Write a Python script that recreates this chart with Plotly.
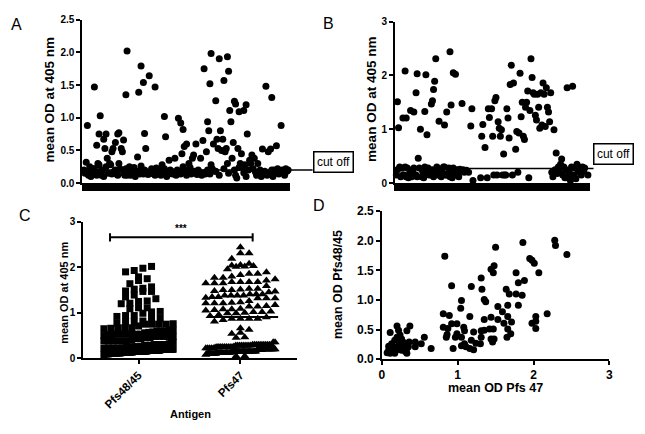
import plotly.graph_objects as go

W, H = 645, 434


def px_x(p):
    return p / W


def px_y(p):
    return 1 - p / H


# ---------------- data ----------------
# Panel A: mean OD (Pfs48/45) per sample, sample index = list position
a_od = [0.20, 0.15, 0.32, 0.88, 0.12, 0.25, 0.10, 0.18, 0.22, 1.47, 0.14, 0.58, 0.30, 0.75, 1.03, 0.12,
        0.20, 0.67, 0.53, 0.75, 0.38, 0.15, 0.30, 0.28, 0.48, 0.53, 0.18, 0.62, 0.14, 0.75, 0.77, 0.22,
        0.53, 0.48, 0.66, 0.12, 1.35, 2.02, 0.15, 0.25, 0.12, 0.20, 0.16, 0.24, 0.10, 0.18, 0.40, 1.39,
        0.14, 1.79, 0.20, 1.54, 0.76, 0.53, 0.17, 0.13, 1.64, 0.15, 0.22, 0.18, 0.14, 1.47, 0.23, 0.17,
        0.16, 0.20, 0.12, 0.28, 0.18, 1.02, 0.71, 0.10, 0.14, 0.35, 0.20, 0.18, 0.14, 0.16, 0.38, 0.12,
        0.20, 0.99, 0.15, 0.92, 0.45, 0.82, 0.56, 0.20, 0.60, 0.16, 0.30, 0.24, 0.14, 0.38, 0.43, 0.18,
        0.60, 0.13, 0.20, 0.16, 0.38, 0.12, 0.65, 1.75, 0.14, 0.48, 0.94, 0.80, 1.52, 1.98, 0.22, 0.60,
        0.18, 1.26, 0.67, 0.53, 1.90, 0.80, 0.50, 0.67, 1.57, 0.48, 0.53, 1.93, 1.71, 1.11, 0.94, 0.38,
        0.62, 1.25, 1.21, 0.08, 0.53, 1.09, 0.30, 0.45, 0.25, 1.11, 0.28, 1.20, 0.75, 0.20, 0.35, 0.30,
        0.43, 0.22, 0.38, 0.17, 0.12, 0.30, 0.16, 0.20, 0.10, 0.52, 0.14, 0.18, 1.48, 0.12, 0.48, 0.15,
        0.52, 1.31, 0.10, 0.20, 0.16, 0.57, 0.22, 0.14, 0.18, 0.88, 0.20, 0.16, 0.12, 0.22, 0.18, 0.20]
a_extra_sample = [3, 9, 11, 13, 14, 17, 19, 24, 27, 29, 30, 34, 36, 37, 47, 49, 51, 52, 56, 61, 69,
                  81, 83, 85, 88, 103, 106, 108, 109, 113, 116, 120, 123, 124, 129, 130, 133, 137,
                  139, 156, 161, 169]
a_extra_od = [0.15, 0.22, 0.12, 0.28, 0.18, 0.10, 0.25, 0.14, 0.20, 0.12, 0.30, 0.16, 0.22, 0.12,
              0.18, 0.26, 0.14, 0.20, 0.16, 0.12, 0.22, 0.18, 0.14, 0.25, 0.12, 0.16, 0.20, 0.14,
              0.28, 0.18, 0.12, 0.22, 0.30, 0.15, 0.20, 0.12, 0.24, 0.16, 0.10, 0.14, 0.20, 0.18]
a_cutoff = 0.20

# Panel B: mean OD (Pfs47) per sample
b_od = [0.15, 1.51, 1.03, 0.30, 0.12, 0.28, 1.21, 0.15, 2.08, 1.21, 0.28, 0.10, 0.18, 1.35, 0.12, 0.25,
        1.32, 0.15, 1.68, 2.03, 0.46, 0.28, 1.00, 0.12, 0.22, 0.10, 1.33, 2.01, 0.90, 0.28, 0.15, 0.20,
        1.47, 1.53, 1.74, 1.89, 2.31, 0.30, 0.15, 1.15, 0.25, 0.12, 0.20, 0.30, 1.08, 0.15, 1.32, 0.18,
        0.28, 2.44, 1.45, 0.10, 2.05, 0.15, 2.02, 0.25, 0.20, 0.12, 0.26, 0.22, 1.48, 0.25, 0.20, None,
        0.24, None, 0.20, None, 1.06, 1.38, 0.05, None, None, None, None, None, None, 0.10, 0.87, 1.09,
        None, 0.66, None, 0.10, 1.38, 1.22, None, 1.38, 0.87, 0.15, 1.53, 1.59, 0.15, 1.14, 1.02, 0.87,
        0.99, 0.15, 0.54, 0.15, 0.15, 1.38, 1.21, 0.84, 1.83, 2.19, 0.15, 1.86, None, 0.63, 0.96, 0.20,
        0.93, 2.04, 1.23, 1.50, 0.87, 0.81, 1.41, 1.50, 1.71, 0.10, 1.35, 2.31, 1.96, 1.68, 1.65, 1.26,
        1.17, 1.65, 1.41, 1.02, 1.68, 1.08, 1.86, 1.65, 1.05, 1.77, 1.41, 1.32, 1.14, 1.68, 0.20, 0.12,
        0.99, 0.25, 0.56, 0.18, 0.30, 0.22, 0.35, 0.45, 0.15, 0.30, 0.10, 0.25, 1.77, 0.12, 0.20, 0.05,
        0.30, 1.80, 0.15, 0.28, 0.08, 0.35, 0.20, 0.30, 0.25, 0.15, 0.30, 0.22, 0.28, None, None, 0.15]
b_extra_sample = [1, 6, 8, 9, 13, 16, 18, 19, 26, 27, 32, 33, 34, 36, 44, 46, 49, 50, 52, 54, 156, 161]
b_extra_od = [0.25, 0.15, 0.30, 0.12, 0.20, 0.28, 0.15, 0.12, 0.30, 0.18, 0.15, 0.25, 0.12, 0.20,
              0.30, 0.15, 0.12, 0.22, 0.28, 0.18, 0.10, 0.12]
b_cutoff = 0.27

# Panel C
c_antigens = ["Pfs48/45", "Pfs47"]
c_means = [0.53, 0.91]
c_signif = "***"

# Panel D: paired OD values
d_pfs47 = [2.28, 2.29, 2.44, 1.86, 1.50, 0.83, 1.95, 1.98, 2.01, 2.07, 1.48, 1.44, 1.47, 1.77, 1.88,
           1.80, 1.31, 1.18, 0.92, 1.32, 1.64, 1.68, 1.77, 1.85, 1.35, 1.37, 1.05, 1.66, 1.80, 1.04,
           1.53, 0.81, 2.18, 1.59, 0.89, 1.16, 1.66, 2.03, 1.44, 1.35, 1.53, 2.03, 1.71, 1.61, 1.98,
           0.92, 0.99, 0.81, 0.87, 1.08, 2.03, 1.35, 1.42, 1.66, 0.86, 0.99, 1.09, 1.21, 1.31, 1.47,
           1.70, 0.85, 0.97, 1.05, 1.31, 1.44, 1.48, 1.65, 1.09, 1.18, 1.24, 1.30, 1.46, 1.05, 1.11,
           1.16, 1.21, 0.94, 0.65, 0.56, 0.52, 0.44, 0.44, 0.37, 0.33, 0.11, 0.20, 0.22, 0.24, 0.09,
           0.13, 0.17, 0.26, 0.28, 0.31, 0.35, 0.11, 0.15, 0.20, 0.24, 0.26, 0.31, 0.33, 0.17, 0.22,
           0.15, 0.09, 0.28, 0.33, 0.20, 0.26, 0.13, 0.07, 0.36, 0.24]
d_pfs4845 = [2.01, 1.92, 1.77, 1.97, 1.89, 1.74, 1.70, 1.67, 1.62, 1.46, 1.58, 1.52, 1.46, 1.46, 1.33,
             1.29, 1.37, 1.23, 1.24, 1.18, 1.18, 1.10, 1.10, 1.08, 1.01, 0.97, 0.99, 0.91, 0.91, 0.86,
             0.89, 0.77, 0.77, 0.80, 0.74, 0.72, 0.72, 0.72, 0.71, 0.67, 0.67, 0.64, 0.63, 0.61, 0.61,
             0.60, 0.60, 0.54, 0.52, 0.54, 0.52, 0.49, 0.51, 0.51, 0.42, 0.43, 0.48, 0.46, 0.48, 0.51,
             0.43, 0.37, 0.37, 0.37, 0.37, 0.34, 0.34, 0.37, 0.26, 0.32, 0.27, 0.26, 0.29, 0.23, 0.21,
             0.18, 0.16, 0.18, 0.18, 0.37, 0.26, 0.29, 0.21, 0.56, 0.48, 0.45, 0.56, 0.49, 0.41, 0.22,
             0.26, 0.32, 0.34, 0.29, 0.26, 0.21, 0.10, 0.13, 0.16, 0.21, 0.15, 0.13, 0.10, 0.10, 0.23,
             0.21, 0.15, 0.21, 0.18, 0.37, 0.25, 0.16, 0.11, 0.29, 0.29]

# ---------------- helpers ----------------
FONT = "Liberation Sans, Arial, sans-serif"
BLACK = "#000000"


def swarm(vals, center, row_h, step, max_half):
    rows = {}
    for v in sorted(vals):
        rows.setdefault(int(round(v / row_h)), []).append(v)
    xs, ys = [], []
    for k in sorted(rows):
        vs = rows[k]
        n = len(vs)
        s = step if (n - 1) * step <= 2 * max_half or n == 1 else 2 * max_half / (n - 1)
        for i, v in enumerate(vs):
            xs.append(center + (i - (n - 1) / 2) * s)
            ys.append(v)
    return xs, ys


def axis_style(**kw):
    d = dict(showline=True, linecolor=BLACK, linewidth=1.5, ticks="outside", ticklen=4,
             tickwidth=1.5, tickcolor=BLACK, showgrid=False, zeroline=False,
             tickfont=dict(family=FONT, size=10, color=BLACK, weight="bold"))
    d.update(kw)
    return d


fig = go.Figure()
dot = dict(color=BLACK, size=7, symbol="circle")

# Panel A
fig.add_trace(go.Scatter(x=list(range(len(a_od))), y=a_od, mode="markers", marker=dot,
                         xaxis="x", yaxis="y", cliponaxis=False, showlegend=False))
fig.add_trace(go.Scatter(x=a_extra_sample, y=a_extra_od, mode="markers", marker=dot,
                         xaxis="x", yaxis="y", cliponaxis=False, showlegend=False))
# Panel B
fig.add_trace(go.Scatter(x=list(range(len(b_od))), y=b_od, mode="markers", marker=dot,
                         xaxis="x2", yaxis="y2", cliponaxis=False, showlegend=False))
fig.add_trace(go.Scatter(x=b_extra_sample, y=b_extra_od, mode="markers", marker=dot,
                         xaxis="x2", yaxis="y2", cliponaxis=False, showlegend=False))
# Panel C
c_vals = [[v for v in a_od + a_extra_od if v is not None],
          [v for v in b_od + b_extra_od if v is not None]]
symbols = ["square", "triangle-up"]
sizes = [7, 8]
for i, vals in enumerate(c_vals):
    xs, ys = swarm(vals, i, 0.14, 0.085, 0.34)
    fig.add_trace(go.Scatter(x=xs, y=ys, mode="markers",
                             marker=dict(color=BLACK, size=sizes[i], symbol=symbols[i]),
                             xaxis="x3", yaxis="y3", cliponaxis=False, showlegend=False))
# Panel D
fig.add_trace(go.Scatter(x=d_pfs47, y=d_pfs4845, mode="markers", marker=dot,
                         xaxis="x4", yaxis="y4", cliponaxis=False, showlegend=False))

nA = len(a_od)
big_tick = dict(family=FONT, size=12, color=BLACK, weight="bold")
layout = dict(
    width=W, height=H, margin=dict(l=0, r=0, t=0, b=0),
    paper_bgcolor="white", plot_bgcolor="white", hovermode=False,
    xaxis=axis_style(domain=[px_x(80), px_x(290)], anchor="y", range=[-1.5, nA + 0.5],
                     tickmode="linear", tick0=0, dtick=1, ticklen=6, tickwidth=1.5,
                     showticklabels=False),
    yaxis=axis_style(domain=[px_y(182), px_y(13)], anchor="x", range=[0, 2.5],
                     tickmode="linear", tick0=0, dtick=0.5, tickformat=".1f"),
    xaxis2=axis_style(domain=[px_x(396), px_x(593)], anchor="y2", range=[-1.5, nA + 0.5],
                      tickmode="linear", tick0=0, dtick=1, ticklen=6, tickwidth=1.5,
                      showticklabels=False),
    yaxis2=axis_style(domain=[px_y(182), px_y(15)], anchor="x2", range=[0, 3],
                      tickmode="linear", tick0=0, dtick=1),
    xaxis3=axis_style(domain=[px_x(81), px_x(297)], anchor="y3", range=[-0.544, 1.553],
                      tickmode="array", tickvals=[0, 1], ticktext=c_antigens, tickangle=-45,
                      tickfont=dict(family=FONT, size=11.5, color=BLACK, weight="bold")),
    yaxis3=axis_style(domain=[px_y(363), px_y(222)], anchor="x3", range=[0, 3],
                      tickmode="linear", tick0=0, dtick=1),
    xaxis4=axis_style(domain=[px_x(383), px_x(613)], anchor="y4", range=[0, 3],
                      tickmode="linear", tick0=0, dtick=1, tickfont=big_tick),
    yaxis4=axis_style(domain=[px_y(364), px_y(211)], anchor="x4", range=[0, 2.5],
                      tickmode="linear", tick0=0, dtick=0.5, tickformat=".1f", tickfont=big_tick),
)
fig.update_layout(**layout)

shapes = [
    dict(type="line", xref="paper", yref="y", x0=px_x(80), x1=px_x(313), y0=a_cutoff, y1=a_cutoff,
         line=dict(color=BLACK, width=1.5)),
    dict(type="line", xref="paper", yref="y2", x0=px_x(396), x1=px_x(597), y0=b_cutoff, y1=b_cutoff,
         line=dict(color=BLACK, width=1.5)),
    # mean lines
    dict(type="line", xref="x3", yref="y3", x0=-0.36, x1=0.34, y0=c_means[0], y1=c_means[0],
         line=dict(color=BLACK, width=2)),
    dict(type="line", xref="x3", yref="y3", x0=0.71, x1=1.37, y0=c_means[1], y1=c_means[1],
         line=dict(color=BLACK, width=2)),
    # significance bracket
    dict(type="line", xref="x3", yref="y3", x0=-0.28, x1=1.12, y0=2.66, y1=2.66,
         line=dict(color=BLACK, width=2)),
    dict(type="line", xref="x3", yref="y3", x0=-0.28, x1=-0.28, y0=2.57, y1=2.75,
         line=dict(color=BLACK, width=2)),
    dict(type="line", xref="x3", yref="y3", x0=1.12, x1=1.12, y0=2.57, y1=2.75,
         line=dict(color=BLACK, width=2)),
]
fig.update_layout(shapes=shapes)

ann = []


def text(x, y, s, size, bold=False, angle=0, xanchor="center"):
    ann.append(dict(xref="paper", yref="paper", x=px_x(x), y=px_y(y), text=s, showarrow=False,
                    textangle=angle, xanchor=xanchor, yanchor="middle",
                    font=dict(family=FONT, size=size, color=BLACK, weight="bold" if bold else "normal")))


# panel letters
text(14, 18, "A", 16)
text(329, 17, "B", 16)
text(22, 215, "C", 16)
text(319, 205, "D", 16)
# axis titles
text(47, 96, "mean OD at 405 nm", 13.5, bold=True, angle=-90)
text(373, 95, "mean OD at 405 nm", 13.5, bold=True, angle=-90)
text(62, 295, "mean OD at 405 nm", 11, bold=True, angle=-90)
text(190, 421, "Antigen", 11, bold=True)
text(338, 287, "mean OD Pfs48/45", 12.5, bold=True, angle=-90)
text(498, 394, "mean OD Pfs 47", 12.5, bold=True)
# significance stars
ann.append(dict(xref="x3", yref="y3", x=0.42, y=2.86, text=c_signif, showarrow=False,
                font=dict(family=FONT, size=10, color=BLACK, weight="bold")))
# cut off boxes
for cx, cy in [(334, 160), (617, 152)]:
    ann.append(dict(xref="paper", yref="paper", x=px_x(cx), y=px_y(cy), text="cut off",
                    showarrow=False, xanchor="center", yanchor="middle",
                    font=dict(family=FONT, size=12, color=BLACK),
                    bordercolor=BLACK, borderwidth=1.5, borderpad=1, bgcolor="white",
                    width=36, height=17))
fig.update_layout(annotations=ann)

fig.write_html("out.html", config={"displayModeBar": False},
               post_script="document.body.style.margin='0';")
